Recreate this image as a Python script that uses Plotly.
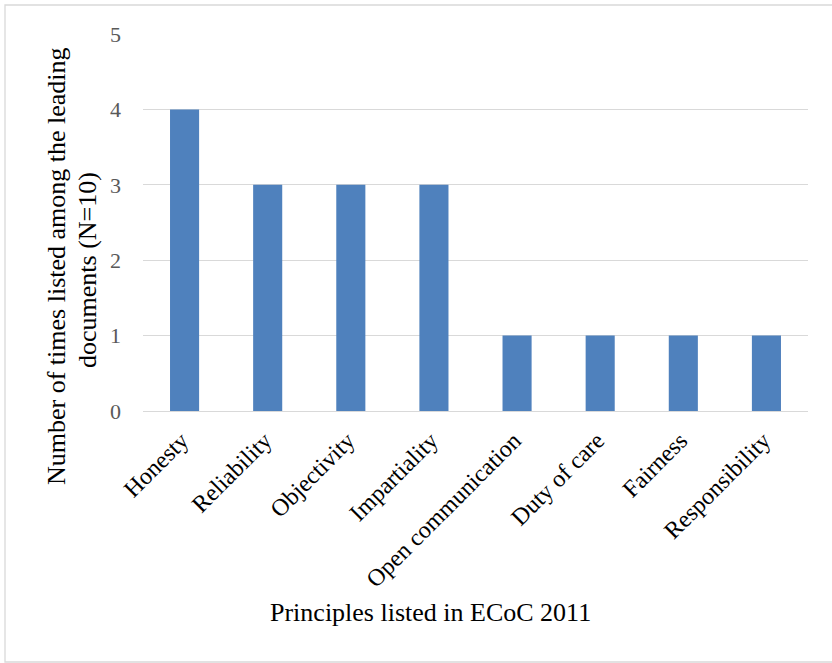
import plotly.graph_objects as go

# Principles and how often each appears among the leading documents
principles = [
    "Honesty", "Reliability", "Objectivity", "Impartiality",
    "Open communication", "Duty of care", "Fairness", "Responsibility",
]
times_listed = [4, 3, 3, 3, 1, 1, 1, 1]
y_ticks = [0, 1, 2, 3, 4, 5]

W, H = 832, 663
ML, MR, MT, MB = 143, 24, 34, 252
PW, PH = W - ML - MR, H - MT - MB


def px_to_paper(px, py):
    """Convert a pixel position on the page to paper coordinates."""
    return (px - ML) / PW, (H - MB - py) / PH


fig = go.Figure(
    go.Bar(
        x=principles,
        y=times_listed,
        marker=dict(color="#4F81BD", line=dict(width=0)),
        hoverinfo="x+y",
    )
)

serif = "Liberation Serif"
grid = "#D9D9D9"

fig.update_xaxes(
    type="category",
    tickangle=-45,
    tickfont=dict(family=serif, size=24, color="#000000"),
    showline=True,
    linecolor=grid,
    linewidth=1,
    ticks="",
    showgrid=False,
    ticklabelstandoff=5,
    ticklabelshift=-3,
)
fig.update_yaxes(
    range=[0, 5],
    tickvals=y_ticks,
    tickfont=dict(family=serif, size=22, color="#595959"),
    showgrid=True,
    gridcolor=grid,
    gridwidth=1,
    zeroline=False,
    showline=False,
    ticks="",
    ticklabelstandoff=21,
)

# Outer chart frame
bx0, by0 = px_to_paper(5, 662)
bx1, by1 = px_to_paper(840, 5)
fig.add_shape(
    type="rect", xref="paper", yref="paper",
    x0=bx0, y0=by0, x1=bx1, y1=by1,
    line=dict(color="#D9D9D9", width=1.3), fillcolor="rgba(0,0,0,0)",
    layer="below",
)

# Axis titles (the y title is set as two separately placed lines)
title_font = dict(family=serif, size=26, color="#000000")
for text, cx, cy in [
    ("Number of times listed among the leading", 56, 266),
    ("documents (N=10)", 87, 270),
]:
    ax, ay = px_to_paper(cx, cy)
    fig.add_annotation(
        text=text, xref="paper", yref="paper", x=ax, y=ay,
        xanchor="center", yanchor="middle", textangle=-90, showarrow=False,
        font=title_font,
    )
xtx, xty = px_to_paper(430, 612)
fig.add_annotation(
    text="Principles listed in ECoC 2011",
    xref="paper", yref="paper", x=xtx, y=xty,
    xanchor="center", yanchor="middle", showarrow=False,
    font=title_font,
)

fig.update_layout(
    width=W,
    height=H,
    margin=dict(l=ML, r=MR, t=MT, b=MB, autoexpand=False),
    bargap=0.65,
    plot_bgcolor="#FFFFFF",
    paper_bgcolor="#FFFFFF",
    showlegend=False,
)

fig.write_html("out.html")
